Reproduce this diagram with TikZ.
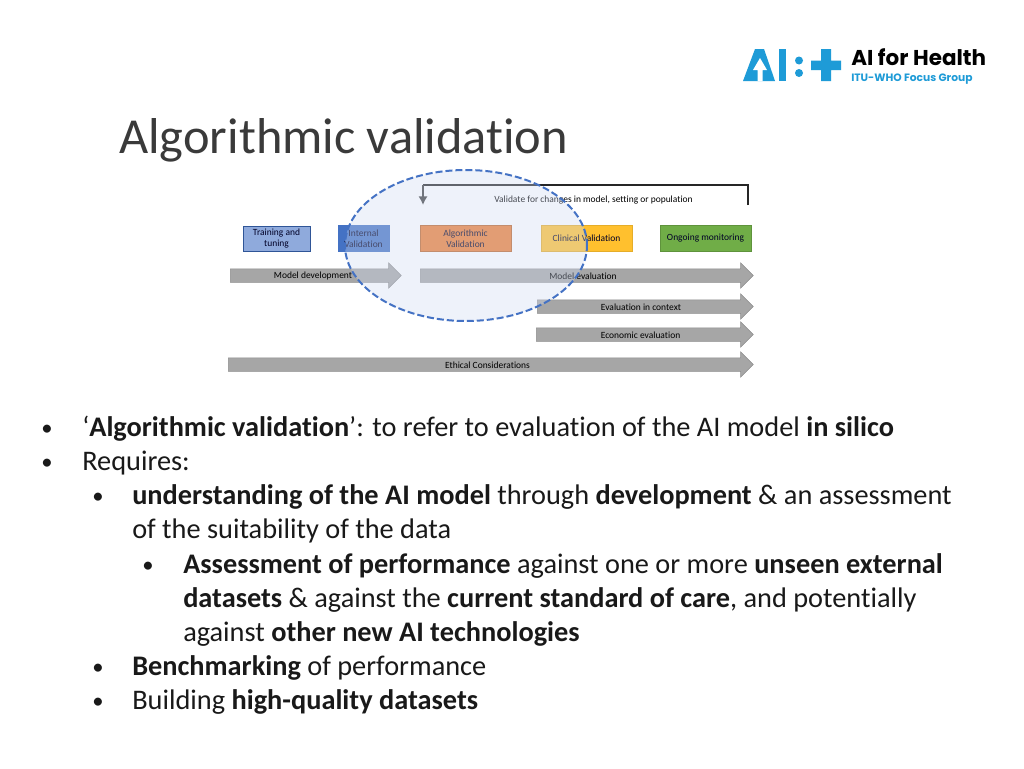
\documentclass[tikz,border=0pt]{standalone}
\usepackage{fontspec}
\setmainfont{Carlito}[Ligatures=CommonOff]
\newfontfamily\logofont{Poppins}
\usetikzlibrary{shapes.geometric,shapes.arrows,arrows.meta}
\newlength\pxu \setlength\pxu{0.75pt}
\definecolor{boxblue}{HTML}{8FAADC}
\definecolor{boxedge}{HTML}{2F5597}
\definecolor{intblue}{HTML}{4472C4}
\definecolor{algo}{HTML}{ED7D31}
\definecolor{clin}{HTML}{FFC02E}
\definecolor{ongo}{HTML}{70AD47}
\definecolor{arrowgray}{HTML}{A6A6A6}
\definecolor{haze}{HTML}{CFDAF1}
\definecolor{logoblue}{HTML}{1E9BD7}
\definecolor{titlegray}{HTML}{3A3A3A}
\tikzset{
  procbox/.style={draw, line width=1\pxu, inner sep=0pt, align=center, font=\fontsize{7.1}{8.6}\selectfont, text=black!85!blue},
  blockarrow/.style={single arrow, anchor=tail, fill=arrowgray, draw=arrowgray!85!black, line width=.5\pxu, inner xsep=0pt, inner ysep=6.5\pxu, minimum height=#1, minimum width=25\pxu, single arrow head extend=6\pxu, single arrow tip angle=90, single arrow head indent=0pt},
  smalltext/.style={font=\fontsize{7.1}{8}\selectfont, inner sep=0pt, text=black},
  bodyline/.style={anchor=base west, inner sep=0pt, font=\fontsize{21.25}{24}\selectfont, text=black!90},
  bulletmark/.style={anchor=base, inner sep=0pt, font=\fontsize{17}{20}\selectfont, text=black!90},
  logopart/.style={fill=logoblue, draw=none},
}
\begin{document}
\begin{tikzpicture}[x=0.75pt,y=-0.75pt]
\useasboundingbox (0,0) rectangle (1024,768);
\fill[white] (0,0) rectangle (1024,768);
% logo
\fill[logopart] (743,81) -- (755,49) -- (764,49) -- (775,81) -- cycle;
\fill[white] (760,58) -- (767,70) -- (762.5,70) -- (762.5,81) -- (757.5,81) -- (757.5,70) -- (753,70) -- cycle;
\fill[logopart] (779,49) rectangle (786,81);
\fill[logopart] (799,60.5) circle (4);
\fill[logopart] (799,73) circle (4);
\fill[logopart] (811,60.5) rectangle (841,70) (821,49) rectangle (831,81);
\node[anchor=base west, inner sep=0pt, font=\logofont\bfseries\fontsize{16.1}{18}\selectfont, text=black] (logotitle) at (851,65.5) {AI for Health};
\node[anchor=base west, inner sep=0pt, font=\logofont\bfseries\fontsize{8}{10}\selectfont, text=logoblue] (logosub) at (851,81) {ITU-WHO Focus Group};
% title
\node[anchor=base west, inner sep=0pt, font=\fontsize{37.8}{42}\selectfont, text=titlegray] (title) at (119,153) {Algorithmic validation};
% boxes
\node[procbox, fill=boxblue, draw=boxedge, minimum width=67\pxu, minimum height=25\pxu] (train) at (276.5,238.5) {Training and\\tuning};
\node[procbox, fill=intblue, draw=intblue, minimum width=51\pxu, minimum height=26\pxu] (internal) at (363.5,238.5) {Internal\\Validation};
\node[procbox, fill=algo, draw=algo!80!black, minimum width=91\pxu, minimum height=26\pxu] (algobox) at (465.5,238.5) {Algorithmic\\Validation};
\node[procbox, fill=clin, draw=clin!90!black, minimum width=91\pxu, minimum height=25.5\pxu] (clinical) at (586.5,238.5) {Clinical Validation};
\node[procbox, fill=ongo, draw=ongo!85!black, minimum width=91\pxu, minimum height=25.5\pxu] (ongoing) at (705.5,238.5) {Ongoing monitoring};
% block arrows
\node[blockarrow=171\pxu] (adev) at (230,275.5) {};
\node[blockarrow=333\pxu] (aeval) at (420,275.5) {};
\node[blockarrow=216\pxu] (actx) at (537,306.5) {};
\node[blockarrow=217\pxu] (aecon) at (536,334.5) {};
\node[blockarrow=525\pxu] (aeth) at (228,364.5) {};
\node[smalltext] (ldev) at (313,276) {Model development};
\node[smalltext] (leval) at (583,276) {Model evaluation};
\node[smalltext] (lctx) at (641,307) {Evaluation in context};
\node[smalltext] (lecon) at (640.5,335) {Economic evaluation};
\node[smalltext] (leth) at (487.5,365) {Ethical Considerations};
% feedback
\coordinate (fbstart) at (748,205);
\coordinate (fbcorner) at (748,185);
\coordinate (fbturn) at (423,185);
\coordinate (fbend) at (423,205);
\draw[line width=2.5\pxu, black!85, line join=miter] (fbstart) -- (fbcorner) -- (fbturn);
\draw[line width=1.8\pxu, black!75, -{Latex[length=6.5pt,width=7pt]}] (fbturn) -- (fbend);
\node[smalltext] (lfb) at (593.5,200.5) {Validate for changes in model, setting or population};
% highlight
\node[ellipse, draw=intblue, fill=haze, fill opacity=.35, draw opacity=1, line width=2\pxu, dash pattern=on 7\pxu off 3\pxu, minimum width=242\pxu, minimum height=151\pxu, inner sep=0pt] (focus) at (466,245.5) {};
% bullets
\node[bulletmark] (b1) at (47,435) {•};
\node[bodyline] (t1) at (82,436.5) {‘\textbf{Algorithmic validation}’: to refer to evaluation of the AI model \textbf{in silico}};
\node[bulletmark] (b2) at (47,469) {•};
\node[bodyline] (t2) at (82,470.5) {Requires:};
\node[bulletmark] (b3) at (98,503) {•};
\node[bodyline] (t3) at (132,504.5) {\textbf{understanding of the AI model} through \textbf{development} \& an assessment};
\node[bodyline] (t3b) at (132,538.5) {of the suitability of the data};
\node[bulletmark] (b4) at (148,572) {•};
\node[bodyline] (t4) at (183,573.5) {\textbf{Assessment of performance} against one or more \textbf{unseen external}};
\node[bodyline] (t4b) at (183,607.5) {\textbf{datasets} \& against the \textbf{current standard of care}, and potentially};
\node[bodyline] (t4c) at (183,641.5) {against \textbf{other new AI technologies}};
\node[bulletmark] (b5) at (98,674) {•};
\node[bodyline] (t5) at (132,675.5) {\textbf{Benchmarking} of performance};
\node[bulletmark] (b6) at (98,708) {•};
\node[bodyline] (t6) at (132,709.5) {Building \textbf{high-quality datasets}};
\end{tikzpicture}
\end{document}
